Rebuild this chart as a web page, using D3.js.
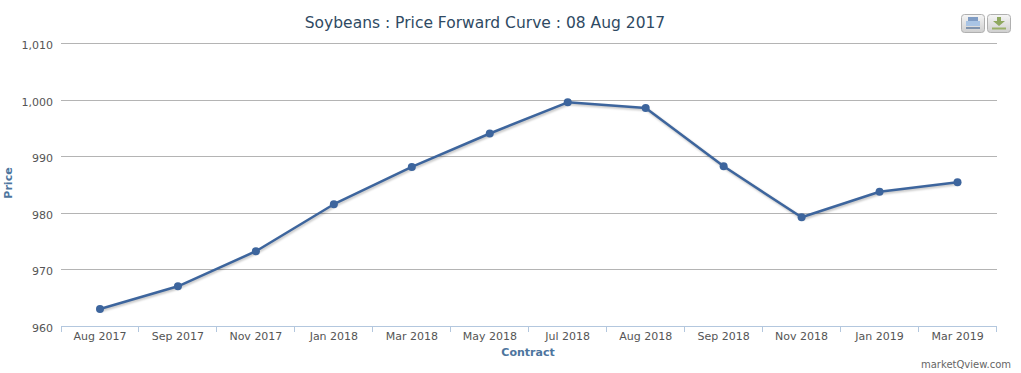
<!DOCTYPE html>
<html>
<head>
<meta charset="utf-8">
<script src="https://cdn.jsdelivr.net/npm/d3@7"></script>
<style>
	html,body{margin:0;padding:0;background:#fff;}
	svg{display:block;}
	text{font-family:"DejaVu Sans",sans-serif;}
</style>
</head>
<body>
<div id="chart"></div>
<script>
const contracts = ['Aug 2017','Sep 2017','Nov 2017','Jan 2018','Mar 2018','May 2018','Jul 2018','Aug 2018','Sep 2018','Nov 2018','Jan 2019','Mar 2019'];
const prices = [963.1,967.1,973.3,981.6,988.2,994.1,999.6,998.6,988.3,979.3,983.8,985.5];
const priceTicks = [960,970,980,990,1000,1010];

const width = 1021;
const height = 373;
const margin = {t:43.5,r:24.5,b:46.5,l:61};
const w = width - margin.l - margin.r;
const h = height - margin.t - margin.b;

const scaleX = d3.scaleBand().domain(contracts).range([0,w]);
const scaleY = d3.scaleLinear().domain([960,1010]).range([h,0]);

const svg = d3.select('#chart').append('svg')
	.attr('width',width)
	.attr('height',height);

const defs = svg.append('defs');
const blur = defs.append('filter').attr('id','lineShadow');
blur.append('feGaussianBlur').attr('stdDeviation',1);

svg.append('text')
	.attr('x',485)
	.attr('y',28)
	.attr('text-anchor','middle')
	.style('font-size','15.5px')
	.style('fill','#2f4a63')
	.text('Soybeans : Price Forward Curve : 08 Aug 2017');

const plot = svg.append('g')
	.attr('transform',`translate(${margin.l},${margin.t})`);

//Axes
const axisY = d3.axisLeft(scaleY)
	.tickValues(priceTicks)
	.tickSize(-w)
	.tickPadding(8)
	.offset(0)
	.tickFormat(d3.format(','));
const axisYNode = plot.append('g').call(axisY);
axisYNode.select('.domain').remove();
axisYNode.selectAll('line')
	.attr('stroke','#b4b4b4')
	.attr('stroke-width',1)
	.attr('shape-rendering','crispEdges');
axisYNode.selectAll('.tick').filter(d => d === 960).select('line').remove();
axisYNode.selectAll('text')
	.attr('dy','0.32em')
	.attr('y',2)
	.attr('x',-8)
	.style('font-size','11px')
	.style('fill','#555');

const axisX = d3.axisBottom(scaleX)
	.tickSize(0)
	.tickPadding(6)
	.offset(0);
const axisXNode = plot.append('g')
	.attr('transform',`translate(0,${h})`)
	.call(axisX);
axisXNode.select('.domain')
	.attr('stroke','#b3c7de')
	.attr('stroke-width',1)
	.attr('shape-rendering','crispEdges');
axisXNode.selectAll('text')
	.style('font-size','11px')
	.style('fill','#555');

const boundaries = contracts.map(d => scaleX(d)).concat([w]);
axisXNode.selectAll('.boundary')
	.data(boundaries)
	.enter()
	.append('line')
	.attr('class','boundary')
	.attr('x1',d => d)
	.attr('x2',d => d)
	.attr('y1',0)
	.attr('y2',5)
	.attr('stroke','#b3c7de')
	.attr('stroke-width',1)
	.attr('shape-rendering','crispEdges');

//Axis titles
svg.append('text')
	.attr('transform','translate(12,183) rotate(-90)')
	.attr('text-anchor','middle')
	.style('font-size','11px')
	.style('font-weight','bold')
	.style('fill','#4d759e')
	.text('Price');

svg.append('text')
	.attr('x',528)
	.attr('y',356)
	.attr('text-anchor','middle')
	.style('font-size','11px')
	.style('font-weight','bold')
	.style('fill','#4d759e')
	.text('Contract');

svg.append('text')
	.attr('x',1011)
	.attr('y',368)
	.attr('text-anchor','end')
	.style('font-size','10px')
	.style('fill','#666')
	.text('marketQview.com');

//Series
const lineGenerator = d3.line()
	.x((d,i) => scaleX(contracts[i]) + scaleX.bandwidth()/2)
	.y(d => scaleY(d));

plot.append('path')
	.datum(prices)
	.attr('d',lineGenerator)
	.attr('transform','translate(1,1.5)')
	.attr('fill','none')
	.attr('stroke','#000')
	.attr('stroke-opacity',0.25)
	.attr('stroke-width',2.5)
	.attr('filter','url(#lineShadow)');

plot.append('path')
	.datum(prices)
	.attr('d',lineGenerator)
	.attr('fill','none')
	.attr('stroke','#3d659d')
	.attr('stroke-width',2.5)
	.attr('stroke-linejoin','round');

plot.selectAll('.dot')
	.data(prices)
	.enter()
	.append('circle')
	.attr('class','dot')
	.attr('cx',(d,i) => scaleX(contracts[i]) + scaleX.bandwidth()/2)
	.attr('cy',d => scaleY(d))
	.attr('r',4)
	.attr('fill','#3d659d');

//Export buttons
const grad = defs.append('linearGradient')
	.attr('id','btnFill')
	.attr('x1',0).attr('y1',0).attr('x2',0).attr('y2',1);
grad.append('stop').attr('offset','0%').attr('stop-color','#f6f6f6');
grad.append('stop').attr('offset','100%').attr('stop-color','#cfcfcf');

const buttons = svg.selectAll('.btn')
	.data([961,987])
	.enter()
	.append('g')
	.attr('class','btn')
	.attr('transform',d => `translate(${d},14)`);
buttons.append('rect')
	.attr('x',0.5)
	.attr('y',0.5)
	.attr('width',23)
	.attr('height',18)
	.attr('rx',3)
	.attr('fill','url(#btnFill)')
	.attr('stroke','#b0b0b0');

const printBtn = svg.select('.btn');
printBtn.append('rect').attr('x',7).attr('y',3).attr('width',10).attr('height',4).attr('fill','#7f9cc4');
printBtn.append('rect').attr('x',5).attr('y',7).attr('width',14).attr('height',5).attr('fill','#a9c4e4');
printBtn.append('rect').attr('x',5).attr('y',13).attr('width',14).attr('height',2).attr('fill','#7f93ad');

const saveBtn = d3.select(buttons.nodes()[1]);
saveBtn.append('path').attr('d',d3.line()([[10,3],[14,3],[14,7],[18,7],[12,12],[6,7],[10,7]])).attr('fill','#8fa860');
saveBtn.append('rect').attr('x',5).attr('y',13.5).attr('width',14).attr('height',2).attr('fill','#9ab068');
</script>
</body>
</html>
